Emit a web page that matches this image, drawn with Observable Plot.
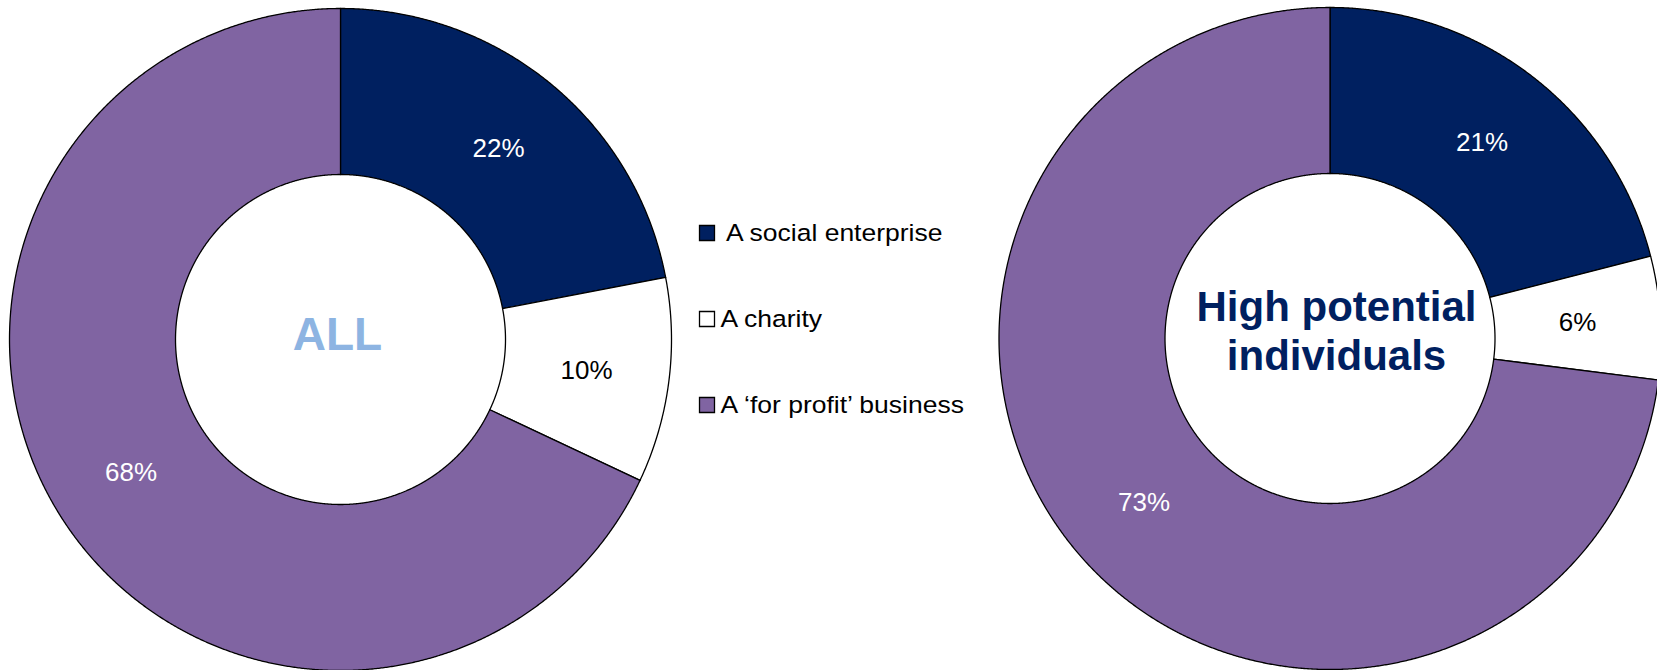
<!DOCTYPE html>
<html>
<head>
<meta charset="utf-8">
<script src="https://cdn.jsdelivr.net/npm/d3@7"></script>
<script src="https://cdn.jsdelivr.net/npm/@observablehq/plot@0.6"></script>
<style>
  html, body { margin: 0; padding: 0; background: #ffffff; }
  #chart svg { display: block; overflow: hidden; }
</style>
</head>
<body>
<div id="chart"></div>
<script>
// ---- data ----
const categories = ["A social enterprise", "A charity", "A \u2018for profit\u2019 business"];
const groups = ["ALL", "High potential individuals"];
const allValues = [22, 10, 68];
const highPotentialValues = [21, 6, 73];
const sliceColors = ["#002060", "#ffffff", "#8064a2"];
const labelColors = ["#ffffff", "#000000", "#ffffff"];

// ---- layout ----
const W = 1657, H = 670;
const R = 331, R0 = 165;
const donuts = [
  {group: groups[0], values: allValues, cx: 340, cy: 339, titleX: 337, titleY: 335, titleColor: "#8db4e2", titleSize: 46},
  {group: groups[1], values: highPotentialValues, cx: 1329.5, cy: 338, titleX: 1336, titleY: 329.5, titleColor: "#002060", titleSize: 42}
];

const polys = [];
const labels = [];
donuts.forEach((d, di) => {
  const arcs = d3.pie().sort(null).value(v => v)(d.values);
  arcs.forEach((a, i) => {
    const key = di + "-" + i;
    const n = Math.max(2, Math.ceil((a.endAngle - a.startAngle) / 0.004));
    for (let k = 0; k <= n; k++) {
      const t = a.startAngle + (a.endAngle - a.startAngle) * k / n;
      polys.push({key, cat: categories[i], x: d.cx + R * Math.sin(t), y: d.cy - R * Math.cos(t)});
    }
    for (let k = n; k >= 0; k--) {
      const t = a.startAngle + (a.endAngle - a.startAngle) * k / n;
      polys.push({key, cat: categories[i], x: d.cx + R0 * Math.sin(t), y: d.cy - R0 * Math.cos(t)});
    }
    const m = (a.startAngle + a.endAngle) / 2, rm = (R + R0) / 2;
    labels.push({x: d.cx + rm * Math.sin(m), y: d.cy - rm * Math.cos(m), text: d.values[i] + "%", color: labelColors[i]});
  });
});

const legendX = 720, legendStretch = 1.128;

const chart = Plot.plot({
  width: W,
  height: H,
  margin: 0,
  x: {domain: [0, W], range: [0, W], axis: null},
  y: {domain: [0, H], range: [0, H], axis: null},
  color: {domain: categories, range: sliceColors},
  style: {fontFamily: "'Liberation Sans', Arial, sans-serif", background: "#ffffff", overflow: "hidden"},
  marks: [
    Plot.line(polys, {x: "x", y: "y", z: "key", fill: "cat", stroke: "#000000", strokeWidth: 1.3, strokeLinejoin: "round", curve: "linear-closed"}),
    Plot.text(labels.filter(l => l.color === "#ffffff"), {x: "x", y: "y", text: "text", fill: "#ffffff", fontSize: 26, lineAnchor: "middle"}),
    Plot.text(labels.filter(l => l.color !== "#ffffff"), {x: "x", y: "y", text: "text", fill: "#000000", fontSize: 26, lineAnchor: "middle"}),
    Plot.text([donuts[0]], {x: "titleX", y: "titleY", text: "group", fill: donuts[0].titleColor, fontSize: donuts[0].titleSize, fontWeight: "bold", lineAnchor: "middle"}),
    Plot.text([donuts[1]], {x: "titleX", y: "titleY", text: "group", fill: donuts[1].titleColor, fontSize: donuts[1].titleSize, fontWeight: "bold", lineAnchor: "middle", lineWidth: 7, lineHeight: 1.17}),
    Plot.dot(categories, {x: 706.5, y: (d, i) => 232.5 + 86 * i, symbol: "square", r: 8.46, fill: d => d, stroke: "#000000", strokeWidth: 1.3}),
    Plot.text(categories, {ariaLabel: () => "legend-text", x: (d, i) => i === 0 ? 725.5 : legendX, y: (d, i) => 240 + 86 * i, text: d => d, textAnchor: "start", lineAnchor: "bottom", fontSize: 23.5, fill: "#000000"})
  ]
});
d3.select(chart).selectAll('text[aria-label="legend-text"]').each(function() {
  const t = d3.select(this);
  const tr = t.attr("transform");
  if (tr) {
    t.attr("transform", tr + ` scale(${legendStretch},1)`);
  } else {
    const x = +t.attr("x"), y = +t.attr("y") || 0;
    t.attr("x", null).attr("y", null)
     .attr("transform", `translate(${x},${y}) scale(${legendStretch},1)`);
  }
});
document.getElementById("chart").appendChild(chart);
</script>
</body>
</html>
